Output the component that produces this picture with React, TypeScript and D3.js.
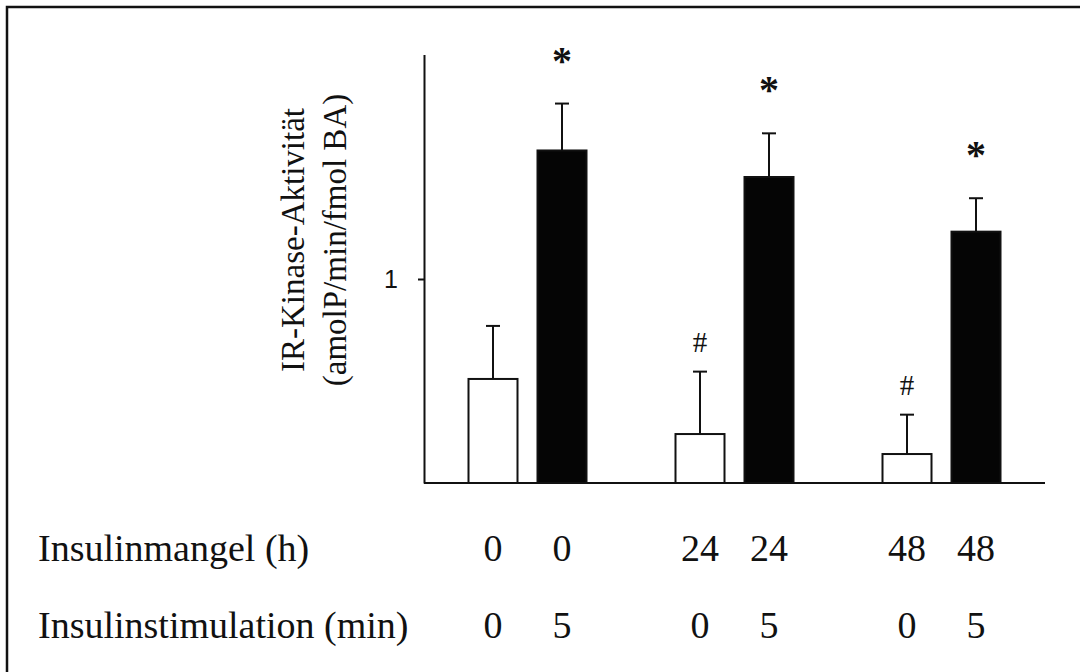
import React, { useEffect, useRef } from 'react';
import * as d3 from 'd3';

// bar groups
const slots = [0, 1, 3, 4, 6, 7];
const means = [0.51, 1.63, 0.24, 1.5, 0.142, 1.232];
const errors = [0.26, 0.23, 0.306, 0.214, 0.193, 0.164];
const filled = [false, true, false, true, false, true];
const marks = ['', '*', '#', '*', '#', '*'];
const mangelLabels = ['0', '0', '24', '24', '48', '48'];
const stimLabels = ['0', '5', '0', '5', '0', '5'];
const yTicks = [1];

const W = 1080;
const H = 672;
const SERIF = "'Liberation Serif', 'DejaVu Serif', serif";
const SANS = "'Liberation Sans', 'DejaVu Sans', sans-serif";

export default function App() {
  const ref = useRef<SVGSVGElement | null>(null);

  useEffect(() => {
    const svg = d3.select(ref.current);
    svg.selectAll('*').remove();

    const x = d3.scaleLinear().domain([0, 7]).range([493, 976]);
    const y = d3.scaleLinear().domain([0, 2.1]).range([483, 54.6]);
    const barW = 49;
    const capW = 14;

    // frame (top + left only)
    svg.append('path')
      .attr('d', `M7,${H} L7,7 L${W},7`)
      .attr('fill', 'none')
      .attr('stroke', '#111')
      .attr('stroke-width', 2.5);

    // y axis
    const yAxis = d3.axisLeft(y)
      .tickValues(yTicks)
      .tickSizeInner(6)
      .tickSizeOuter(0)
      .tickPadding(20)
      .tickFormat(d3.format('d'));

    const gy = svg.append('g')
      .attr('transform', 'translate(424,0)')
      .call(yAxis);
    gy.attr('font-family', null).attr('font-size', null);
    gy.select('.domain').attr('stroke', '#111').attr('stroke-width', 2);
    gy.selectAll('.tick line').attr('stroke', '#111').attr('stroke-width', 2);
    gy.selectAll('.tick text')
      .style('font-family', SANS)
      .style('font-size', '25px')
      .attr('fill', '#111');

    // bars
    const data = slots.map((s, i) => ({
      s, v: means[i], e: errors[i], f: filled[i], m: marks[i],
    }));

    const g = svg.append('g');

    // error bars (upper only)
    g.selectAll('line.err')
      .data(data)
      .enter()
      .append('line')
      .attr('class', 'err')
      .attr('x1', d => x(d.s))
      .attr('x2', d => x(d.s))
      .attr('y1', d => y(d.v))
      .attr('y2', d => y(d.v + d.e))
      .attr('stroke', '#111')
      .attr('stroke-width', 2);

    g.selectAll('line.cap')
      .data(data)
      .enter()
      .append('line')
      .attr('class', 'cap')
      .attr('x1', d => x(d.s) - capW / 2)
      .attr('x2', d => x(d.s) + capW / 2)
      .attr('y1', d => y(d.v + d.e))
      .attr('y2', d => y(d.v + d.e))
      .attr('stroke', '#111')
      .attr('stroke-width', 2);

    g.selectAll('rect')
      .data(data)
      .enter()
      .append('rect')
      .attr('x', d => x(d.s) - barW / 2)
      .attr('y', d => y(d.v))
      .attr('width', barW)
      .attr('height', d => y(0) - y(d.v))
      .attr('fill', d => (d.f ? '#050505' : '#fff'))
      .attr('stroke', '#111')
      .attr('stroke-width', 2);

    // significance marks
    g.selectAll('text.mark')
      .data(data.filter(d => d.m))
      .enter()
      .append('text')
      .attr('class', 'mark')
      .attr('x', d => x(d.s))
      .attr('y', d => y(d.v + d.e) - (d.m === '*' ? 30 : 20))
      .attr('text-anchor', 'middle')
      .style('font-family', SERIF)
      .style('font-weight', d => (d.m === '*' ? 'bold' : 'normal'))
      .style('font-size', d => (d.m === '*' ? '40px' : '29px'))
      .attr('fill', '#111')
      .text(d => d.m);

    // baseline
    svg.append('line')
      .attr('x1', 424)
      .attr('x2', 1045)
      .attr('y1', y(0))
      .attr('y2', y(0))
      .attr('stroke', '#111')
      .attr('stroke-width', 2);

    // y title
    const title = svg.append('text')
      .attr('transform', 'translate(0,240) rotate(-90)')
      .attr('text-anchor', 'middle')
      .style('font-family', SERIF)
      .style('font-size', '33px')
      .attr('fill', '#111');
    title.append('tspan').attr('x', 0).attr('y', 304).text('IR-Kinase-Aktivität');
    title.append('tspan').attr('x', 0).attr('y', 346).text('(amolP/min/fmol BA)');

    // condition rows
    const rows = [
      { label: 'Insulinmangel (h)', values: mangelLabels, yb: 561 },
      { label: 'Insulinstimulation (min)', values: stimLabels, yb: 638 },
    ];
    rows.forEach(r => {
      svg.append('text')
        .attr('x', 38)
        .attr('y', r.yb)
        .style('font-family', SERIF)
        .style('font-size', '38px')
        .attr('fill', '#111')
        .text(r.label);
      svg.append('g')
        .selectAll('text')
        .data(r.values)
        .enter()
        .append('text')
        .attr('x', (d, i) => x(slots[i]))
        .attr('y', r.yb)
        .attr('text-anchor', 'middle')
        .style('font-family', SERIF)
        .style('font-size', '38px')
        .attr('fill', '#111')
        .text(d => d);
    });
  }, []);

  return (
    <svg
      ref={ref}
      width={W}
      height={H}
      style={{ position: 'absolute', left: 0, top: 0, background: '#fff' }}
    />
  );
}
